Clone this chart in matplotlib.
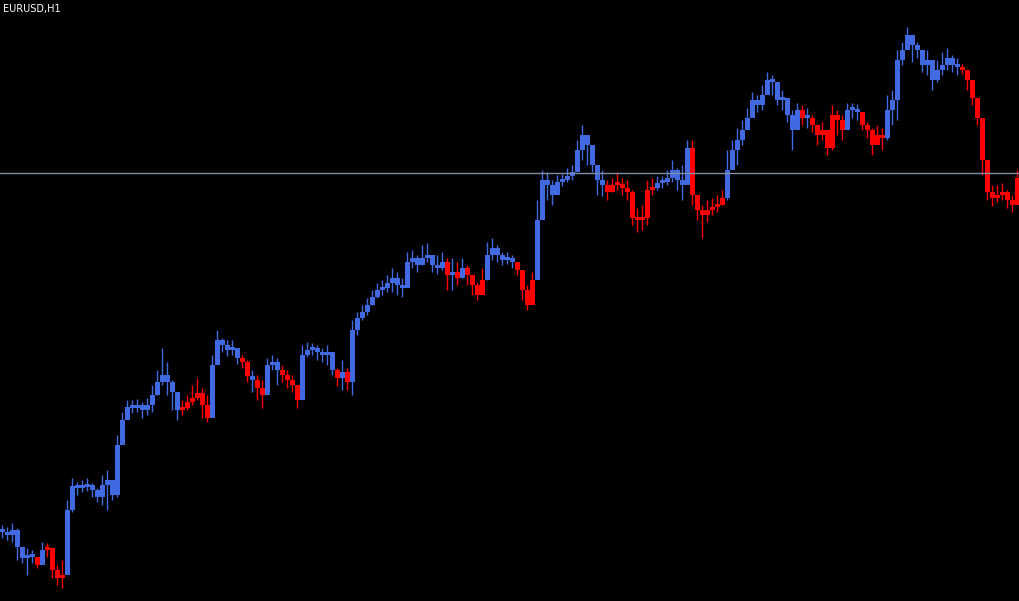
import numpy as np
import matplotlib
matplotlib.use("Agg")
import matplotlib.pyplot as plt

# EURUSD H1 bars, prices stored as pips above BASE
BASE = 1.0400
PIP = 0.0001

close_pips = [
    68, 65, 70, 53, 42, 44, 43, 35, 50, 52, 30, 22, 25, 90, 114, 112, 113, 115, 110, 103,
    115, 120, 105, 155, 180, 193, 192, 195, 190, 195, 205, 218, 225, 218, 208, 190, 192, 198, 202, 207,
    195, 182, 235, 260, 255, 250, 252, 242, 238, 224, 220, 212, 205, 235, 238, 230, 225, 220, 215, 200,
    245, 250, 252, 248, 245, 248, 230, 222, 228, 218, 270, 282, 288, 295, 303, 310, 312, 317, 322, 315,
    312, 338, 342, 335, 342, 345, 335, 332, 338, 325, 328, 322, 332, 325, 315, 305, 320, 345, 352, 345,
    340, 342, 338, 330, 310, 295, 320, 380, 420, 415, 405, 418, 420, 424, 428, 450, 465, 455, 435, 420,
    415, 408, 415, 416, 412, 408, 382, 380, 382, 410, 412, 417, 418, 422, 430, 420, 415, 452, 405, 390,
    385, 390, 393, 395, 402, 430, 450, 460, 470, 482, 500, 495, 505, 520, 518, 500, 502, 485, 470, 490,
    482, 482, 475, 465, 470, 452, 485, 480, 470, 490, 490, 488, 475, 470, 455, 465, 462, 490, 500, 540,
    550, 565, 555, 550, 535, 540, 520, 530, 535, 542, 535, 533, 530, 520, 502, 482, 440, 408, 402, 405,
    408, 400, 395, 422,
]

high_pips = [
    75, 73, 77, 72, 52, 52, 50, 42, 58, 57, 40, 35, 40, 100, 122, 118, 120, 122, 117, 112,
    125, 130, 117, 165, 188, 200, 200, 201, 198, 202, 215, 230, 252, 238, 220, 200, 200, 205, 215, 222,
    212, 205, 245, 270, 262, 260, 260, 250, 245, 240, 230, 225, 220, 242, 245, 242, 235, 230, 225, 215,
    255, 258, 257, 255, 252, 255, 240, 232, 240, 232, 280, 288, 295, 302, 310, 317, 320, 325, 332, 328,
    322, 348, 350, 345, 355, 357, 342, 345, 348, 342, 342, 338, 342, 335, 325, 318, 332, 358, 362, 355,
    348, 348, 345, 338, 330, 315, 328, 400, 430, 428, 420, 425, 426, 432, 435, 460, 475, 465, 450, 435,
    430, 420, 422, 428, 422, 420, 410, 392, 395, 420, 422, 424, 424, 430, 440, 432, 435, 460, 460, 405,
    395, 400, 402, 405, 410, 450, 460, 472, 480, 492, 508, 505, 515, 528, 525, 510, 510, 495, 490, 497,
    495, 492, 485, 475, 478, 470, 495, 490, 485, 497, 497, 496, 485, 478, 472, 475, 472, 505, 510, 550,
    558, 573, 565, 558, 545, 550, 535, 540, 548, 552, 545, 542, 536, 530, 512, 495, 470, 425, 415, 415,
    417, 410, 405, 430,
]

low_pips = [
    62, 60, 58, 40, 37, 25, 37, 32, 37, 43, 22, 15, 12, 30, 88, 105, 108, 109, 103, 98,
    95, 90, 100, 103, 160, 185, 187, 188, 182, 185, 188, 205, 215, 205, 190, 180, 185, 190, 195, 200,
    182, 178, 210, 245, 248, 244, 245, 236, 232, 218, 208, 200, 192, 220, 230, 215, 218, 212, 208, 192,
    208, 243, 245, 240, 238, 235, 225, 214, 210, 210, 205, 265, 280, 285, 295, 302, 305, 308, 308, 305,
    303, 320, 332, 328, 335, 338, 328, 326, 330, 310, 310, 315, 322, 315, 305, 300, 308, 320, 340, 338,
    335, 336, 332, 325, 300, 290, 305, 340, 395, 400, 395, 412, 414, 418, 420, 430, 440, 435, 428, 405,
    404, 400, 408, 410, 405, 400, 375, 368, 370, 375, 405, 410, 412, 415, 418, 410, 400, 422, 395, 380,
    362, 378, 385, 388, 395, 400, 438, 435, 455, 472, 488, 488, 490, 510, 505, 495, 490, 478, 450, 482,
    475, 472, 468, 455, 460, 445, 450, 465, 460, 482, 482, 480, 470, 462, 445, 458, 450, 460, 475, 480,
    535, 552, 538, 542, 528, 525, 510, 518, 525, 530, 528, 525, 526, 510, 495, 475, 425, 400, 394, 398,
    400, 392, 388, 400,
]

# trend colouring of the bars: (colour code, number of bars)
trend_runs = [
    ("b", 7), ("r", 1), ("b", 1), ("r", 4), ("b", 23), ("r", 6), ("b", 6), ("r", 2), ("b", 1),
    ("r", 2), ("b", 3), ("r", 4), ("b", 7), ("r", 1), ("b", 1), ("r", 1), ("b", 19), ("r", 1),
    ("b", 1), ("r", 1), ("b", 1), ("r", 4), ("b", 6), ("r", 4), ("b", 14), ("r", 10), ("b", 7),
    ("r", 7), ("b", 15), ("r", 1), ("b", 1), ("r", 7), ("b", 3), ("r", 5), ("b", 15), ("r", 12),
]

hline_price = 1.08275
symbol_label = "EURUSD,H1"

colour_map = {"b": "#4169e1", "r": "#ff0000"}

close = BASE + np.array(close_pips) * PIP
high = BASE + np.array(high_pips) * PIP
low = BASE + np.array(low_pips) * PIP
opens = np.concatenate([[close[0]], close[:-1]])
trend = "".join(c * n for c, n in trend_runs)
colors = [colour_map[c] for c in trend]
x = np.arange(len(close))

fig = plt.figure(figsize=(10.2, 6.01), dpi=100, facecolor="black")
ax = fig.add_axes([0, 0, 1, 1], facecolor="black")

# Wicks
ax.vlines(x, low, high, colors=colors, linewidth=1.0)

# Bodies: from previous close to close, wide enough to form a staircase
bottom = np.minimum(opens, close)
height = np.maximum(np.abs(close - opens), 3 * PIP)
ax.bar(x, height, bottom=bottom, width=0.92, color=colors, linewidth=0)

# Horizontal price line
ax.axhline(hline_price, color="#7f8fa6", linewidth=1.0)

ax.set_xlim(-0.5, len(close) - 0.5)
ax.set_ylim(BASE - 1 * PIP, BASE + 600 * PIP)
ax.axis("off")

fig.text(0.003, 0.993, symbol_label, color="white", fontsize=7, family="DejaVu Sans",
         ha="left", va="top")

fig.savefig("out.png", dpi=100, facecolor="black")
